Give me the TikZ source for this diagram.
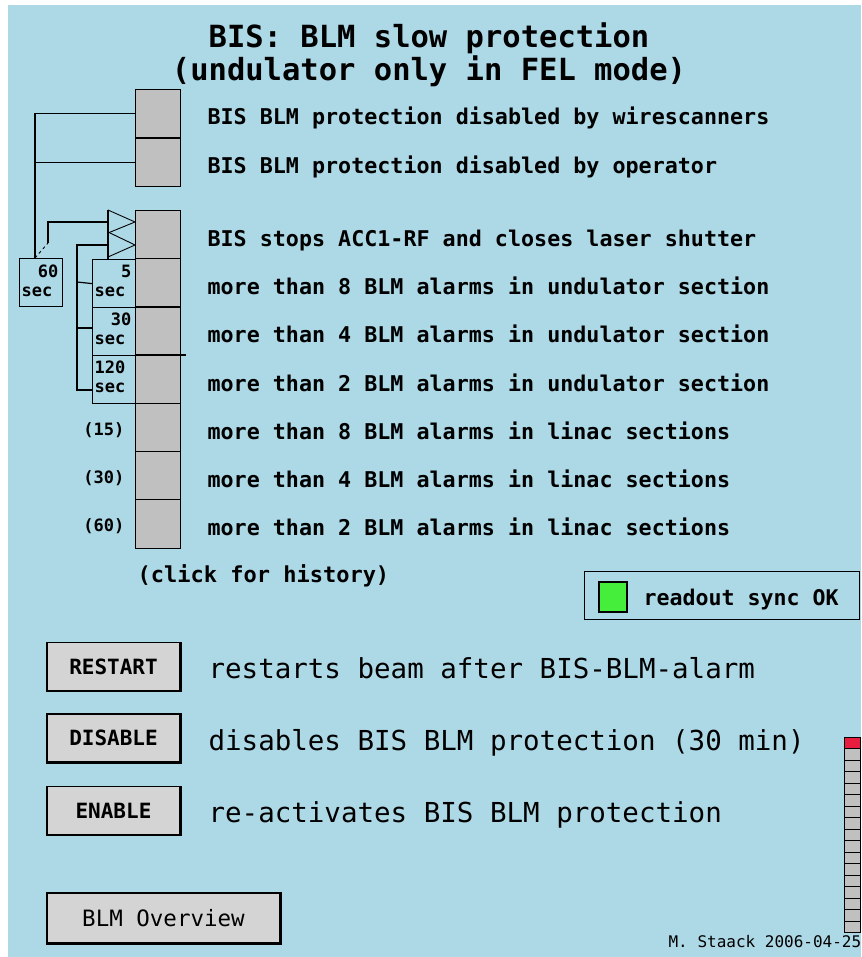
\documentclass[tikz,border=0pt]{standalone}
\usepackage{fontspec}
\setmonofont{DejaVu Sans Mono}

\definecolor{panelblue}{RGB}{173,216,230}
\definecolor{boxgray}{RGB}{192,192,192}
\definecolor{btngray}{RGB}{212,212,212}
\definecolor{syncgreen}{RGB}{68,238,58}
\definecolor{alarmred}{RGB}{232,28,62}

\tikzset{
    alarm/.style={draw, fill=boxgray, minimum width=45pt, minimum height=48.5pt, inner sep=0pt, anchor=north west},
    delaybox/.style={draw, minimum width=43pt, minimum height=48pt, inner sep=0pt, anchor=north west},
    rowtext/.style={anchor=base west, inner sep=0pt, font=\fontsize{21.7}{24}\selectfont\ttfamily\bfseries},
    secnum/.style={inner sep=0pt, font=\fontsize{17}{18}\selectfont\ttfamily\bfseries},
    button/.style={draw, fill=btngray, minimum width=133pt, minimum height=48pt, inner sep=0pt, font=\fontsize{21}{24}\selectfont\ttfamily\bfseries},
    btntext/.style={anchor=base west, inner sep=0pt, font=\fontsize{27.5}{30}\selectfont\ttfamily},
    cell/.style={draw, fill=boxgray, minimum width=16pt, minimum height=11.47pt, inner sep=0pt, anchor=north west, line width=0.9pt}
}

\begin{document}
\begin{tikzpicture}[x=1pt, y=-1pt, line width=1.2pt]

    \useasboundingbox (0,0) rectangle (861,957);
    \fill[white] (0,0) rectangle (861,957);
    \fill[panelblue] (8,5) rectangle (861,957);

    \node [anchor=base, inner sep=0pt, font=\fontsize{30.5}{34}\selectfont\ttfamily\bfseries] (title1) at (429,48) {BIS: BLM slow protection};
    \node [anchor=base, inner sep=0pt, font=\fontsize{30.5}{34}\selectfont\ttfamily\bfseries] (title2) at (429,81) {(undulator only in FEL mode)};

    % alarm boxes
    \node [alarm] (b1) at (135,89) {};
    \node [alarm] (b2) at (135,137.5) {};
    \foreach \i/\txt in {3/{BIS stops ACC1-RF and closes laser shutter},
                         4/{more than 8 BLM alarms in undulator section},
                         5/{more than 4 BLM alarms in undulator section},
                         6/{more than 2 BLM alarms in undulator section},
                         7/{more than 8 BLM alarms in linac sections},
                         8/{more than 4 BLM alarms in linac sections},
                         9/{more than 2 BLM alarms in linac sections}} {
        \node [alarm] (b\i) at (135,{210+(\i-3)*48.2}) {};
        \node [rowtext] (l\i) at (207,{210+(\i-3)*48.2+36.5}) {\txt};
    }
    \node [rowtext] (l1) at (207,125) {BIS BLM protection disabled by wirescanners};
    \node [rowtext] (l2) at (207,173.5) {BIS BLM protection disabled by operator};

    \node [secnum, anchor=base east] (n15) at (125,435) {(15)};
    \node [secnum, anchor=base east] (n30) at (125,483) {(30)};
    \node [secnum, anchor=base east] (n60) at (125,531) {(60)};

    % delay boxes
    \node [delaybox] (t60) at (19,258) {};
    \node [delaybox] (t5) at (92,259) {};
    \node [delaybox] (t30) at (92,307) {};
    \node [delaybox] (t120) at (92,355) {};
    \node [secnum, anchor=base east] at (59,277) {60};
    \node [secnum, anchor=base west] at (21,296) {sec};
    \node [secnum, anchor=base east] at (132,277) {5};
    \node [secnum, anchor=base west] at (94,296) {sec};
    \node [secnum, anchor=base east] at (132,325) {30};
    \node [secnum, anchor=base west] at (94,344) {sec};
    \node [secnum, anchor=base west] at (94,373) {120};
    \node [secnum, anchor=base west] at (94,392) {sec};
    \draw (t120.north east) -- ++(50,0);

    % disable bus and switch
    \coordinate (bus) at (35,258);
    \coordinate (sw) at (48,243);
    \draw (b1.west) -| (bus);
    \draw (b2.west) -- (b2.west -| bus);
    \draw [dashed, line width=0.9pt] (bus) -- (sw);

    % gates
    \coordinate (g1) at (108,210);
    \coordinate (g2) at (108,233);
    \coordinate (g3) at (108,257);
    \draw (g1) -- (g3 |- t5.north);
    \draw [line width=0.9pt] (g1) -- (135,222) -- (g2);
    \draw [line width=0.9pt] (108,232) -- (135,245) -- (g3);
    \draw (sw) |- (108,222);
    \draw (108,245) -| (77,390) -- (92,390);
    \draw (77,282) -- (t5.west);
    \draw (77,328) -- (92,328);

    \node [secnum, anchor=base west, font=\fontsize{22}{24}\selectfont\ttfamily\bfseries] (hist) at (137,582) {(click for history)};

    % readout
    \node [draw, minimum width=275pt, minimum height=48pt, inner sep=0pt, anchor=north west] (sync) at (584,571) {};
    \node [draw, fill=syncgreen, minimum width=28pt, minimum height=30pt, inner sep=0pt] (led) at (613,597) {};
    \node [anchor=base west, inner sep=0pt, font=\fontsize{21.6}{24}\selectfont\ttfamily\bfseries] (synctxt) at (643,605) {readout sync OK};

    % buttons
    \node [button] (restart) at (113.5,666.5) {RESTART};
    \node [button] (disable) at (113.5,738) {DISABLE};
    \node [button] (enable) at (113.5,810.5) {ENABLE};
    \node [button, minimum width=233pt, minimum height=50pt, font=\fontsize{22.5}{24}\selectfont\ttfamily] (overview) at (163.5,918) {BLM Overview};
    \foreach \b in {restart,disable,enable,overview}
        \draw [line width=2.4pt] (\b.south west) -- (\b.south east) -- (\b.north east);

    \node [btntext] (d1) at (208,678) {restarts beam after BIS-BLM-alarm};
    \node [btntext] (d2) at (208,750) {disables BIS BLM protection (30 min)};
    \node [btntext] (d3) at (208,822) {re-activates BIS BLM protection};

    % level bar
    \foreach \i in {0,...,16}
        \node [cell] (c\i) at (844,{737+\i*11.47}) {};
    \node [cell, fill=alarmred] at (844,737) {};

    \node [anchor=base west, inner sep=0pt, font=\fontsize{16}{18}\selectfont\ttfamily] (sign) at (668,947) {M. Staack 2006-04-25};

\end{tikzpicture}
\end{document}
